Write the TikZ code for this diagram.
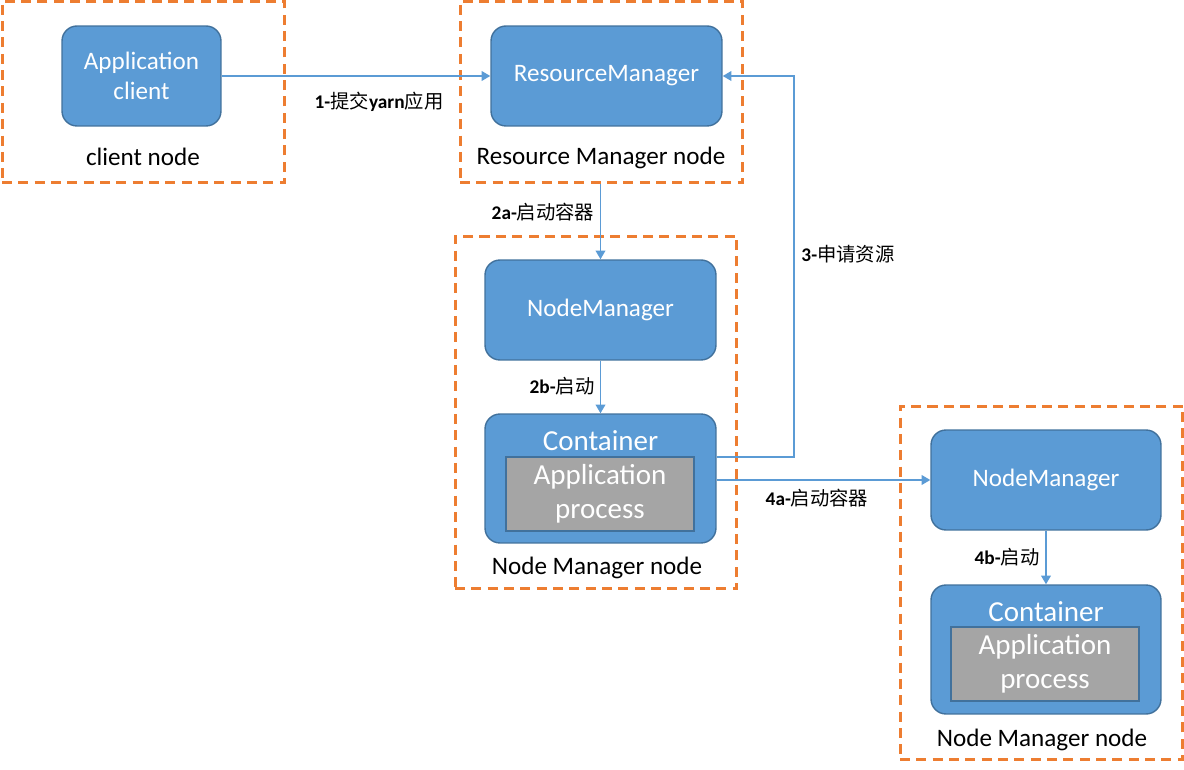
\documentclass[tikz,border=0pt]{standalone}
\usepackage{fontspec}
\setmainfont{Carlito}
\newfontfamily\cjk{Noto Sans CJK SC}
\usetikzlibrary{arrows.meta,calc}
\definecolor{boxblue}{HTML}{5B9BD5}
\definecolor{boxedge}{HTML}{41719C}
\definecolor{frameorange}{HTML}{ED7D31}
\definecolor{procgray}{HTML}{A5A5A5}
\tikzset{
  frame/.style={draw=frameorange, line width=1.7pt, dash pattern=on 5.7pt off 3.6pt, inner sep=0pt},
  bluebox/.style={draw=boxedge, fill=boxblue, line width=0.8pt, rounded corners=8.5pt, text=white, align=center, inner sep=0pt, font=\fontsize{14.3}{17}\selectfont},
  graybox/.style={draw=boxedge, fill=procgray, line width=0.8pt, text=white, align=center, inner sep=0pt, font=\fontsize{16.5}{19.5}\selectfont},
  ctitle/.style={text=white, inner sep=0pt, font=\fontsize{16.5}{19}\selectfont},
  nodelabel/.style={inner sep=0pt, font=\fontsize{14.3}{17}\selectfont},
  flow/.style={draw=boxblue, line width=1.1pt, -{Triangle[length=5pt,width=5.5pt]}},
  steplabel/.style={inner sep=0pt, font=\fontsize{11}{13}\selectfont\bfseries},
}
\newcommand\zh[1]{{\cjk\mdseries #1}}
\begin{document}
\begin{tikzpicture}[x=0.02cm,y=-0.02cm]
\useasboundingbox (0,0) rectangle (1184,770);
% frames
\node[frame, minimum width=5.66cm, minimum height=3.64cm] (cframe) at (143.5,92) {};
\node[frame, minimum width=5.66cm, minimum height=3.64cm] (rmframe) at (601.5,92) {};
\node[frame, minimum width=5.64cm, minimum height=7.06cm] (nmframe) at (596,412.5) {};
\node[frame, minimum width=5.66cm, minimum height=7.08cm] (nm2frame) at (1041.5,583) {};
% boxes
\node[bluebox, minimum width=3.18cm, minimum height=2.0cm] (client) at (141.5,76) {Application\\client};
\node[bluebox, minimum width=4.62cm, minimum height=2.0cm] (rm) at (606.5,76) {ResourceManager};
\node[bluebox, minimum width=4.62cm, minimum height=2.0cm] (nm1) at (600.5,310) {NodeManager};
\node[bluebox, minimum width=4.62cm, minimum height=2.58cm] (c1) at (600.5,478.5) {};
\node[ctitle] (c1t) at (600.5,441) {Container};
\node[graybox, minimum width=3.76cm, minimum height=1.48cm] (p1) at (600,494) {Application\\process};
\node[bluebox, minimum width=4.6cm, minimum height=2.0cm] (nm2) at (1046,480) {NodeManager};
\node[bluebox, minimum width=4.6cm, minimum height=2.58cm] (c2) at (1046,649.5) {};
\node[ctitle] (c2t) at (1046,612) {Container};
\node[graybox, minimum width=3.76cm, minimum height=1.48cm] (p2) at (1045,664) {Application\\process};
% frame labels
\node[nodelabel] (cl) at (143,157) {client node};
\node[nodelabel] (rml) at (601,158) {Resource Manager node};
\node[nodelabel] (nml) at (597,568) {Node Manager node};
\node[nodelabel] (nm2l) at (1042,740) {Node Manager node};
% connectors
\draw[flow] (client.east) -- (rm.west);
\draw[flow] (nm1.north |- rmframe.south) -- (nm1.north);
\draw[flow] (nm1.south) -- (c1.north);
\coordinate (s3) at ($(c1.east)+(0,-21.5)$);
\coordinate (t3) at (794,76);
\draw[flow] (s3) -| (t3) -- (rm.east);
\draw[flow] (c1.east |- nm2.west) -- (nm2.west);
\draw[flow] (nm2.south) -- (c2.north);
% step labels
\node[steplabel] (l1) at (379,102) {1-\zh{提交}yarn\zh{应用}};
\node[steplabel] (l2a) at (543,212) {2a-\zh{启动容器}};
\node[steplabel] (l2b) at (562,386) {2b-\zh{启动}};
\node[steplabel] (l3) at (848,254) {3-\zh{申请资源}};
\node[steplabel] (l4a) at (817,498) {4a-\zh{启动容器}};
\node[steplabel] (l4b) at (1007,557) {4b-\zh{启动}};
\end{tikzpicture}
\end{document}
